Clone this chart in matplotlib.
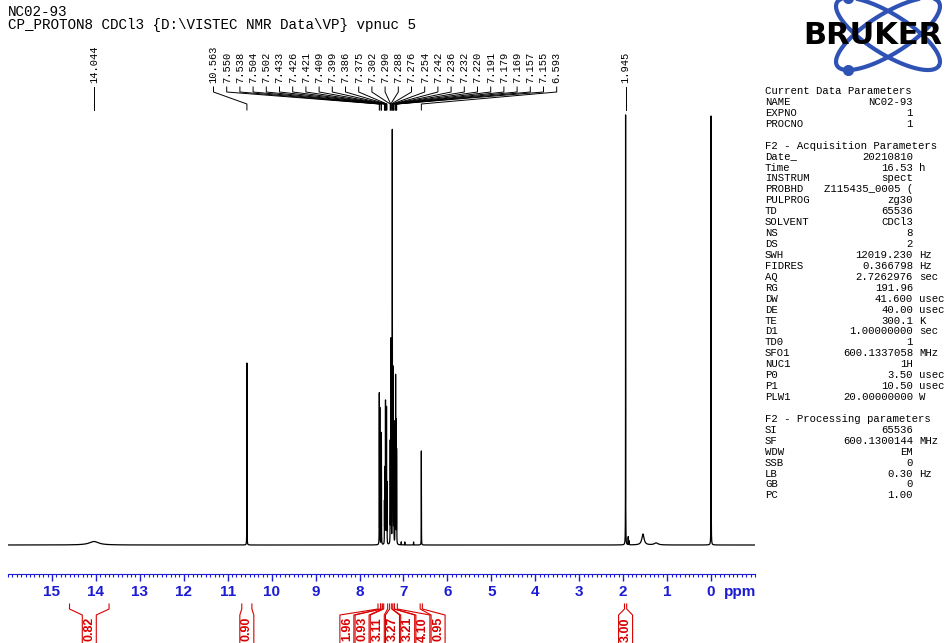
import matplotlib
matplotlib.use("Agg")
import matplotlib.pyplot as plt
import numpy as np
from matplotlib.ticker import MultipleLocator

# sharp lines of the 1H spectrum: shift (ppm) and height (px above baseline)
line_ppm = [10.563, 7.550, 7.538, 7.504, 7.502, 7.433, 7.426, 7.421, 7.409, 7.399,
            7.386, 7.375, 7.302, 7.290, 7.288, 7.276, 7.254, 7.242, 7.236, 7.232,
            7.220, 7.191, 7.179, 7.169, 7.157, 7.155, 7.05, 6.97, 6.77, 6.593,
            1.945, 1.885, 1.865, 0.0]
line_height = [182, 150, 135, 80, 80, 40, 60, 70, 140, 110,
               135, 60, 100, 145, 145, 110, 410, 160, 150, 120,
               100, 120, 165, 120, 70, 60, 3, 3, 3, 94,
               430, 8, 4, 429]

# broad humps: shift, height, half width
broad_ppm = [14.044, 1.55, 1.25]
broad_height = [3.5, 11, 2]
broad_width = [0.13, 0.03, 0.05]

peak_labels = [14.044, 10.563, 7.550, 7.538, 7.504, 7.502, 7.433, 7.426, 7.421,
               7.409, 7.399, 7.386, 7.375, 7.302, 7.290, 7.288, 7.276, 7.254,
               7.242, 7.236, 7.232, 7.220, 7.191, 7.179, 7.169, 7.157, 7.155,
               6.593, 1.945]

integral_from = [14.60, 10.68, 7.58, 7.52, 7.45, 7.315, 7.262, 7.21, 6.62, 1.97]
integral_to = [13.70, 10.45, 7.52, 7.48, 7.36, 7.262, 7.21, 7.14, 6.57, 1.92]
integral_value = ["0.82", "0.90", "1.96", "0.93", "3.11", "3.27", "3.21", "4.10", "0.95", "3.00"]

ppm_ticks = list(range(0, 16))

data_keys = ["NAME", "EXPNO", "PROCNO"]
data_vals = ["NC02-93", "1", "1"]
acq_keys = ["Date_", "Time", "INSTRUM", "PROBHD", "PULPROG", "TD", "SOLVENT", "NS", "DS",
            "SWH", "FIDRES", "AQ", "RG", "DW", "DE", "TE", "D1", "TD0", "SFO1", "NUC1",
            "P0", "P1", "PLW1"]
acq_vals = ["20210810", "16.53", "spect", "Z115435_0005 (", "zg30", "65536", "CDCl3", "8", "2",
            "12019.230", "0.366798", "2.7262976", "191.96", "41.600", "40.00", "300.1",
            "1.00000000", "1", "600.1337058", "1H", "3.50", "10.50", "20.00000000"]
acq_units = ["", "h", "", "", "", "", "", "", "", "Hz", "Hz", "sec", "", "usec", "usec", "K",
             "sec", "", "MHz", "", "usec", "usec", "W"]
proc_keys = ["SI", "SF", "WDW", "SSB", "LB", "GB", "PC"]
proc_vals = ["65536", "600.1300144", "EM", "0", "0.30", "0", "1.00"]
proc_units = ["", "MHz", "", "", "Hz", "", ""]

MONO = "Liberation Mono"
SANS = "Liberation Sans"
BLUE = "#1c1cd4"
RED = "#d80000"
LOGO = "#2f52b5"
W, H = 950, 643


def spread(xs, gap):
    # cluster labels so neighbours are at least `gap` px apart
    groups = [[x] for x in xs]
    merged = True
    while merged:
        merged = False
        for i in range(len(groups) - 1):
            a, b = groups[i], groups[i + 1]
            a_right = np.mean(a) + (len(a) - 1) * gap / 2
            b_left = np.mean(b) - (len(b) - 1) * gap / 2
            if b_left - a_right < gap:
                groups[i] = a + b
                del groups[i + 1]
                merged = True
                break
    out = []
    for g in groups:
        c = np.mean(g)
        out += [c + (k - (len(g) - 1) / 2) * gap for k in range(len(g))]
    return out


fig = plt.figure(figsize=(W / 100, H / 100), dpi=100)
fig.patch.set_facecolor("white")

# spectrum axes: baseline at y=545 px, ruler at y=574 px
ax = fig.add_axes([8 / W, (H - 574) / H, (755 - 8) / W, (574 - 100) / H])
ppm = np.linspace(16, -1, 68001)
spec = np.zeros_like(ppm)
for p, h in zip(line_ppm, line_height):
    spec += h / (1 + ((ppm - p) / 0.0015) ** 2)
for p, h, w in zip(broad_ppm, broad_height, broad_width):
    spec += h / (1 + ((ppm - p) / w) ** 2)
ax.plot(ppm, spec, color="black", lw=0.9)
ax.set_xlim(16, -1)
ax.set_ylim(-29, 445)
for s in ["top", "left", "right"]:
    ax.spines[s].set_visible(False)
ax.spines["bottom"].set_color(BLUE)
ax.set_yticks([])
ax.set_xticks(ppm_ticks)
ax.xaxis.set_minor_locator(MultipleLocator(0.1))
ax.tick_params(axis="x", which="major", direction="out", length=5, width=1,
               color=BLUE, labelcolor=BLUE, pad=3)
ax.tick_params(axis="x", which="minor", direction="out", length=2.5, width=0.8, color=BLUE)
for lab in ax.get_xticklabels():
    lab.set_fontfamily(SANS)
    lab.set_fontweight("bold")
    lab.set_fontsize(11)
ax.patch.set_alpha(0)


def px(p):
    return ax.transData.transform((p, 0))[0]


# overlay in image pixel coordinates
ov = fig.add_axes([0, 0, 1, 1])
ov.set_xlim(0, W)
ov.set_ylim(H, 0)
ov.axis("off")
ov.patch.set_alpha(0)

ov.text(px(-0.3), 592, "ppm", color=BLUE, family=SANS, weight="bold", size=11,
        ha="left", va="center")

# header
ov.text(8, 12, "NC02-93", family=MONO, size=10.3, va="center")
ov.text(8, 25, "CP_PROTON8 CDCl3 {D:\\VISTEC NMR Data\\VP} vpnuc 5", family=MONO,
        size=10.3, va="center")

# peak labels with leaders
peak_x = [px(p) for p in peak_labels]
label_x = spread(peak_x, 13.2)
for p, x0, x1 in zip(peak_labels, peak_x, label_x):
    ov.text(x1, 83, f"{p:.3f}", family=MONO, size=7.5, rotation=90,
            ha="center", va="bottom")
    ov.plot([x1, x1, x0, x0], [87, 92, 104, 110], color="black", lw=0.7)

# integrals
int_lo = [px(p) for p in integral_from]
int_hi = [px(p) for p in integral_to]
int_c = [(a + b) / 2 for a, b in zip(int_lo, int_hi)]
int_x = spread(int_c, 15.2)
for a, b, c, v in zip(int_lo, int_hi, int_x, integral_value):
    half = 7
    ov.plot([a, a, c - half, c - half], [604, 609, 615, 645], color=RED, lw=0.8)
    ov.plot([b, b, c + half, c + half], [604, 609, 615, 645], color=RED, lw=0.8)
    ov.text(c, 617, v, color=RED, family=SANS, weight="bold", size=9,
            rotation=90, ha="center", va="top")

# Bruker logo: two crossed orbits with electrons
t = np.linspace(0, 2 * np.pi, 300)
a_orb, b_orb, cx, cy = 60, 20, 888, 34
for k, phi in enumerate([np.radians(32), np.radians(-32)]):
    xe = cx + a_orb * np.cos(t) * np.cos(phi) - b_orb * np.sin(t) * np.sin(phi)
    ye = cy + a_orb * np.cos(t) * np.sin(phi) + b_orb * np.sin(t) * np.cos(phi)
    ov.plot(xe, ye, color=LOGO, lw=3, solid_capstyle="round")
    i = np.argmin(ye) if k == 0 else np.argmax(ye)
    ov.plot(xe[i], ye[i], "o", color=LOGO, ms=7)
ov.text(873, 35, "BRUKER", family="DejaVu Sans", weight="bold", size=22,
        ha="center", va="center", color="black")

# parameter panel
KX, VX, UX = 765, 913, 919
step = 10.93


def row(i):
    return 91 + i * step


def put_block(start, title, keys, vals, units):
    ov.text(KX, row(start), title, family=MONO, size=7.7, va="center")
    for k, (key, val, unit) in enumerate(zip(keys, vals, units)):
        y = row(start + 1 + k)
        ov.text(KX, y, key, family=MONO, size=7.7, va="center")
        ov.text(VX, y, val, family=MONO, size=7.7, va="center", ha="right")
        if unit:
            ov.text(UX, y, unit, family=MONO, size=7.7, va="center")


put_block(0, "Current Data Parameters", data_keys, data_vals, [""] * 3)
put_block(5, "F2 - Acquisition Parameters", acq_keys, acq_vals, acq_units)
put_block(30, "F2 - Processing parameters", proc_keys, proc_vals, proc_units)

fig.savefig("out.png", dpi=100)
